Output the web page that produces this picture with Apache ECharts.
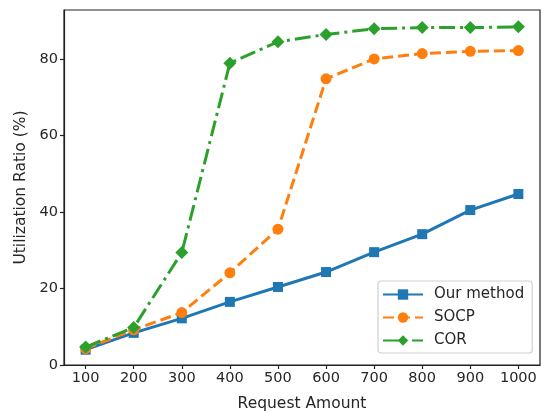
<!DOCTYPE html>
<html>
<head>
<meta charset="utf-8">
<script src="https://cdn.jsdelivr.net/npm/echarts@6/dist/echarts.min.js"></script>
<style>
html,body{margin:0;padding:0;background:#fff;}
#chart{width:547px;height:412px;}
</style>
</head>
<body>
<div id="chart"></div>
<script>
const requestAmounts = [100, 200, 300, 400, 500, 600, 700, 800, 900, 1000];
const ourMethod = [4.0, 8.4, 12.2, 16.5, 20.4, 24.3, 29.5, 34.2, 40.5, 44.7];
const socp = [4.3, 9.2, 13.7, 24.1, 35.5, 74.8, 80.0, 81.4, 82.0, 82.2];
const cor = [4.7, 9.8, 29.4, 78.9, 84.5, 86.4, 87.9, 88.2, 88.2, 88.4];
const xTicks = [100, 200, 300, 400, 500, 600, 700, 800, 900, 1000];
const seriesNames = ['Our method', 'SOCP', 'COR'];

const pair = arr => requestAmounts.map((x, i) => [x, arr[i]]);
const textColor = '#262626';
const fontFamily = 'DejaVu Sans';
const diamond = 'path://M0,-1L1,0L0,1L-1,0Z';

const chart = echarts.init(document.getElementById('chart'), null, {renderer: 'canvas'});
chart.setOption({
  animation: false,
  backgroundColor: '#fff',
  textStyle: {fontFamily: fontFamily},
  grid: {left: 64, right: 7, top: 10, bottom: 47, show: true, borderColor: '#222', borderWidth: 1.2, containLabel: false, outerBoundsMode: 'none'},
  legend: {
    orient: 'vertical',
    left: 378, top: 281,
    itemWidth: 40, itemHeight: 13, itemGap: 8,
    padding: [6, 8, 5, 4],
    borderColor: '#d0d0d0', borderWidth: 1.2, borderRadius: 3,
    backgroundColor: '#fff',
    textStyle: {fontSize: 15, color: textColor, fontFamily: fontFamily, padding: [0, 0, 0, 6]},
    data: seriesNames
  },
  xAxis: {
    type: 'value', min: 55, max: 1045,
    name: 'Request Amount', nameLocation: 'middle', nameGap: 31,
    nameTextStyle: {fontSize: 15.5, color: textColor, fontFamily: fontFamily},
    axisLine: {show: true, lineStyle: {color: '#222', width: 1.2}},
    axisTick: {show: true, length: 4, inside: false, customValues: xTicks, lineStyle: {color: '#222', width: 1.2}},
    axisLabel: {fontSize: 14.5, color: textColor, margin: 6, customValues: xTicks, fontFamily: fontFamily, formatter: v => String(v)},
    splitLine: {show: false}
  },
  yAxis: {
    type: 'value', min: 0, max: 92.8, interval: 20,
    name: 'Utilization Ratio (%)', nameLocation: 'middle', nameGap: 32,
    nameTextStyle: {fontSize: 15.5, color: textColor, fontFamily: fontFamily},
    axisLine: {show: true, lineStyle: {color: '#222', width: 1.2}},
    axisTick: {show: true, length: 4, inside: false, lineStyle: {color: '#222', width: 1.2}},
    axisLabel: {fontSize: 14.5, color: textColor, margin: 6, showMaxLabel: false, fontFamily: fontFamily},
    splitLine: {show: false}
  },
  series: [
    {
      name: seriesNames[0], type: 'line', data: pair(ourMethod),
      symbol: 'rect', symbolSize: 10, z: 3,
      itemStyle: {color: '#1f77b4'},
      lineStyle: {color: '#1f77b4', width: 3}
    },
    {
      name: seriesNames[1], type: 'line', data: pair(socp),
      symbol: 'circle', symbolSize: 11, z: 4,
      itemStyle: {color: '#ff7f0e'},
      lineStyle: {color: '#ff7f0e', width: 3, type: [11, 5]}
    },
    {
      name: seriesNames[2], type: 'line', data: pair(cor),
      symbol: diamond, symbolSize: 13, z: 5,
      itemStyle: {color: '#2ca02c'},
      lineStyle: {color: '#2ca02c', width: 3, type: [16, 5, 3, 5]}
    }
  ]
});
</script>
</body>
</html>
